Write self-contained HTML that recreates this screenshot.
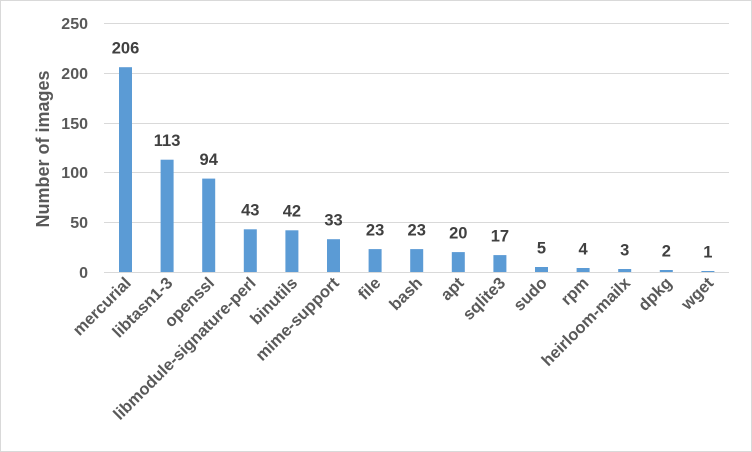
<!DOCTYPE html>
<html><head><meta charset="utf-8"><style>
html,body{margin:0;padding:0;background:#fff}
svg{display:block}
text{font-family:"Liberation Sans",sans-serif}
</style></head><body>
<svg width="752" height="452" viewBox="0 0 752 452" xmlns="http://www.w3.org/2000/svg">
<rect x="0.5" y="0.5" width="751" height="451" fill="#fff" stroke="#d9d9d9"/>
<g stroke="#d9d9d9" stroke-width="1">
<line x1="104" x2="729" y1="23.5" y2="23.5"/>
<line x1="104" x2="729" y1="73.5" y2="73.5"/>
<line x1="104" x2="729" y1="123.5" y2="123.5"/>
<line x1="104" x2="729" y1="172.5" y2="172.5"/>
<line x1="104" x2="729" y1="222.5" y2="222.5"/>
<line x1="104" x2="729" y1="272.5" y2="272.5"/>
</g>
<g fill="#595959" font-size="16" font-weight="bold" text-anchor="end">
<text x="88" y="29">250</text>
<text x="88" y="79">200</text>
<text x="88" y="129">150</text>
<text x="88" y="178">100</text>
<text x="88" y="228">50</text>
<text x="88" y="278">0</text>
</g>
<text transform="translate(49,149) rotate(-90)" text-anchor="middle" font-size="18" font-weight="bold" fill="#595959">Number of images</text>
<g fill="#5b9bd5">
<rect x="119" y="67.2" width="13" height="204.8"/>
<rect x="160.6" y="159.7" width="13" height="112.3"/>
<rect x="202.2" y="178.6" width="13" height="93.4"/>
<rect x="243.8" y="229.3" width="13" height="42.7"/>
<rect x="285.4" y="230.3" width="13" height="41.7"/>
<rect x="327" y="239.2" width="13" height="32.8"/>
<rect x="368.6" y="249.1" width="13" height="22.9"/>
<rect x="410.2" y="249.1" width="13" height="22.9"/>
<rect x="451.8" y="252.1" width="13" height="19.9"/>
<rect x="493.4" y="255.1" width="13" height="16.9"/>
<rect x="535" y="267" width="13" height="5"/>
<rect x="576.6" y="268" width="13" height="4"/>
<rect x="618.2" y="269" width="13" height="3"/>
<rect x="659.8" y="270" width="13" height="2"/>
<rect x="701.4" y="271" width="13" height="1"/>
</g>
<g fill="#404040" font-size="16.5" font-weight="bold" text-anchor="middle">
<text x="125.5" y="53.5">206</text>
<text x="167.1" y="146">113</text>
<text x="208.7" y="165">94</text>
<text x="250.3" y="215.5">43</text>
<text x="291.9" y="216.5">42</text>
<text x="333.5" y="225.5">33</text>
<text x="375.1" y="235.5">23</text>
<text x="416.7" y="235.5">23</text>
<text x="458.3" y="238.5">20</text>
<text x="499.9" y="241.5">17</text>
<text x="541.5" y="253.5">5</text>
<text x="583.1" y="254.5">4</text>
<text x="624.7" y="255.5">3</text>
<text x="666.3" y="256.5">2</text>
<text x="707.9" y="257.5">1</text>
</g>
<g fill="#595959" font-size="16.5" font-weight="bold" text-anchor="end">
<text transform="translate(132,284) rotate(-45)">mercurial</text>
<text transform="translate(173.6,284) rotate(-45)">libtasn1-3</text>
<text transform="translate(215.2,284) rotate(-45)">openssl</text>
<text transform="translate(256.8,284) rotate(-45)">libmodule-signature-perl</text>
<text transform="translate(298.4,284) rotate(-45)">binutils</text>
<text transform="translate(340,284) rotate(-45)">mime-support</text>
<text transform="translate(381.6,284) rotate(-45)">file</text>
<text transform="translate(423.2,284) rotate(-45)">bash</text>
<text transform="translate(464.8,284) rotate(-45)">apt</text>
<text transform="translate(506.4,284) rotate(-45)">sqlite3</text>
<text transform="translate(548,284) rotate(-45)">sudo</text>
<text transform="translate(589.6,284) rotate(-45)">rpm</text>
<text transform="translate(631.2,284) rotate(-45)">heirloom-mailx</text>
<text transform="translate(672.8,284) rotate(-45)">dpkg</text>
<text transform="translate(714.4,284) rotate(-45)">wget</text>
</g>
</svg>
</body></html>
